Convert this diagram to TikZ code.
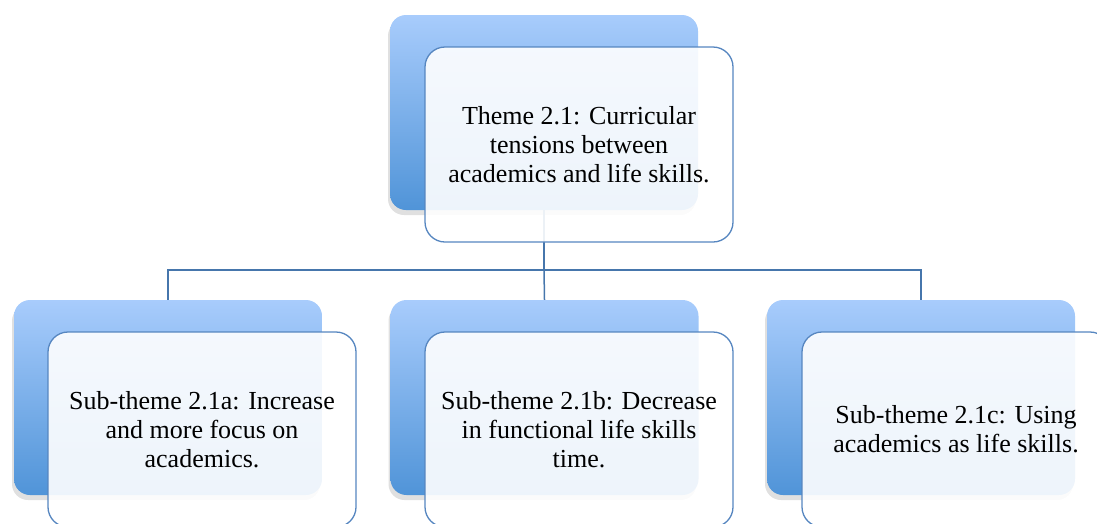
\documentclass[tikz,border=0pt]{standalone}
\usepackage{fontspec}
\setmainfont{Liberation Serif}
\usetikzlibrary{shadows,positioning}
\definecolor{gtop}{RGB}{168,204,252}
\definecolor{gbot}{RGB}{80,148,216}
\definecolor{edgeblue}{RGB}{86,134,192}
\definecolor{linkblue}{RGB}{70,118,172}
\tikzset{
  backbox/.style={rounded corners=16pt, minimum width=308pt, minimum height=195pt,
    top color=gtop, bottom color=gbot, draw=none, inner sep=0pt,
    drop shadow={shadow xshift=-2pt, shadow yshift=-5pt, opacity=0.12, fill=black}},
  frontbox/.style={rounded corners=20pt, minimum width=308pt, minimum height=195pt,
    draw=edgeblue, line width=1.3pt, fill=white, fill opacity=0.9, text opacity=1,
    align=center, inner sep=0pt,
    font=\fontsize{26}{29}\selectfont},
  link/.style={draw=linkblue, line width=1.5pt}
}
\begin{document}
\begin{tikzpicture}[x=1pt,y=1pt]
\useasboundingbox (0,0) rectangle (1097,-523);
% back boxes
\node[backbox] (tb) at (544,-112.5) {};
\node[backbox] (b1) at (168,-397.5) {};
\node[backbox] (b2) at (544.5,-397.5) {};
\node[backbox] (b3) at (921,-397.5) {};
% connectors
\coordinate (bus) at (544,-270);
\draw[link] (tb.south) -- (bus);
\draw[link] (bus) -| (b1.north);
\draw[link] (bus) -| (b3.north);
\draw[link] (bus) -- (b2.north);
% front boxes
\node[frontbox] (tf) at (579,-144.5) {Theme 2.1: Curricular\\tensions between\\academics and life skills.};
\node[frontbox] (f1) at (202,-429.5) {Sub-theme 2.1a: Increase\\and more focus on\\academics.};
\node[frontbox] (f2) at (579,-429.5) {Sub-theme 2.1b: Decrease\\in functional life skills\\time.};
\node[frontbox] (f3) at (956,-429.5) {Sub-theme 2.1c: Using\\academics as life skills.};
\end{tikzpicture}
\end{document}
